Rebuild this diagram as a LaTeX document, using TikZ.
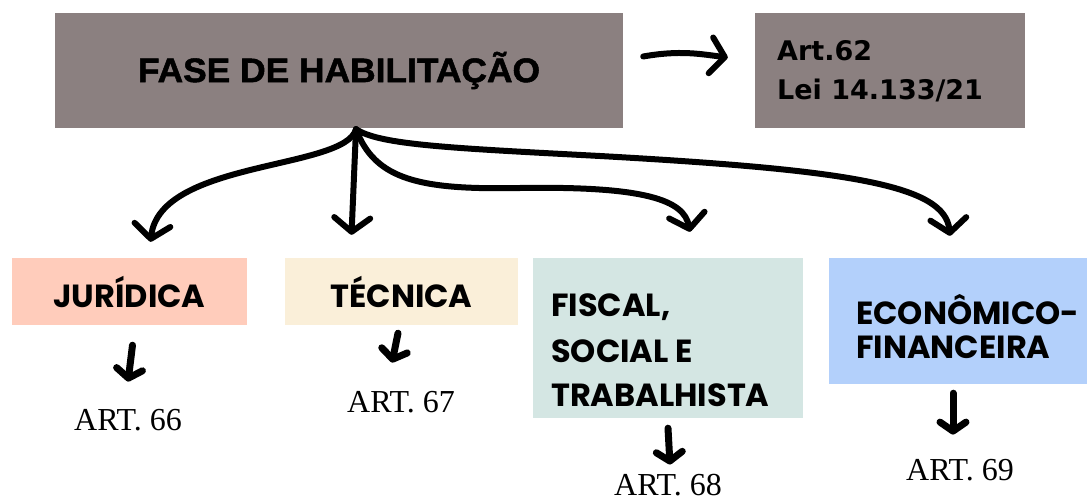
\documentclass[tikz,border=0pt]{standalone}
\usepackage{fontspec}
\usetikzlibrary{arrows.meta,calc}
\newfontfamily\titlefont{Liberation Sans}[FakeStretch=1.04, BoldFeatures={FakeBold=1.5}]
\newfontfamily\boxfont{Poppins}
\newfontfamily\artboxfont{DejaVu Sans}
\newfontfamily\artserif{Liberation Serif}
\definecolor{mainc}{RGB}{139,128,128}
\definecolor{jurc}{RGB}{255,204,187}
\definecolor{tecc}{RGB}{250,239,217}
\definecolor{fisc}{RGB}{212,230,227}
\definecolor{ecoc}{RGB}{179,208,251}
\begin{document}
\begin{tikzpicture}[x=1pt,y=-1pt,
  box/.style={rectangle, inner sep=0pt, draw=none},
  boxtxt/.style={inner sep=0pt, font=\boxfont\bfseries\fontsize{32}{36}\selectfont},
  arttxt/.style={inner sep=0pt, anchor=base, font=\artserif\fontsize{32}{36}\selectfont},
  lawtxt/.style={inner sep=0pt, anchor=base west, font=\artboxfont\bfseries\fontsize{27}{31}\selectfont},
  hand/.style={line width=6pt, line cap=round, line join=round,
    -{Straight Barb[length=14pt,width=36pt,round]}},
  stub/.style={line width=7pt, line cap=round, line join=round,
    -{Straight Barb[length=9pt,width=26pt,round]}}]
\useasboundingbox (0,0) rectangle (1087,500);
\fill[white] (0,0) rectangle (1087,500);

% boxes
\node[box, fill=mainc, minimum width=568pt, minimum height=115pt,
  font=\titlefont\bfseries\fontsize{34}{38}\selectfont] (main) at (339,70.5) {FASE DE HABILITAÇÃO};
\node[box, fill=mainc, minimum width=270pt, minimum height=115pt] (art) at (890,70.5) {};
\node[lawtxt] (art1) at (777,61) {Art.62};
\node[lawtxt] (art2) at (777,100) {Lei 14.133/21};

\node[box, fill=jurc, minimum width=235pt, minimum height=67pt, boxtxt] (jur) at (129.5,291.5) {JURÍDICA};
\node[box, fill=tecc, minimum width=233pt, minimum height=67pt, boxtxt] (tec) at (401.5,291.5) {TÉCNICA};
\node[box, fill=fisc, minimum width=270pt, minimum height=160pt] (fis) at (668,338) {};
\node[boxtxt, anchor=base west] (fis1) at (551,316) {FISCAL,};
\node[boxtxt, anchor=base west] (fis2) at (551,362) {SOCIAL E};
\node[boxtxt, anchor=base west] (fis3) at (551,406) {TRABALHISTA};
\node[box, fill=ecoc, minimum width=258pt, minimum height=126pt] (eco) at (958,321) {};
\node[boxtxt, anchor=base west] (eco1) at (856,324) {ECONÔMICO-};
\node[boxtxt, anchor=base west] (eco2) at (856,358) {FINANCEIRA};

% article labels
\node[arttxt] (a66) at (128,430) {ART. 66};
\node[arttxt] (a67) at (401,412) {ART. 67};
\node[arttxt] (a68) at (668,495) {ART. 68};
\node[arttxt] (a69) at (960,480) {ART. 69};

% connectors
\draw[hand] ([xshift=20pt,yshift=14pt]main.east) .. controls (680,50) and (700,54) .. ([xshift=-27pt,yshift=13pt]art.west);
\coordinate (hub) at ([xshift=17pt,yshift=-1pt]main.south);
\draw[hand] (hub) .. controls (345,170) and (160,160) .. ([xshift=21pt,yshift=16pt]jur.north);
\draw[hand] (hub) -- ([xshift=-50pt,yshift=23pt]tec.north);
\draw[hand] (hub) .. controls (375,180) and (420,190) .. (520,188) .. controls (645,186) and (684,200) .. ([xshift=22pt,yshift=26pt]fis.north);
\draw[hand] (hub) .. controls (380,145) and (450,148) .. (600,156) .. controls (850,170) and (945,185) .. ([xshift=-8pt,yshift=22pt]eco.north);

\draw[stub] ([xshift=3pt,yshift=-20pt]jur.south) -- ([yshift=27pt]a66.north);
\draw[stub] ([xshift=-3.5pt,yshift=-8pt]tec.south) -- ([xshift=-9pt,yshift=28pt]a67.north);
\draw[stub] ([yshift=-10pt]fis.south) -- ([xshift=2pt,yshift=9pt]a68.north);
\draw[stub] ([xshift=-5pt,yshift=-9pt]eco.south) -- ([xshift=-7pt,yshift=24pt]a69.north);
\end{tikzpicture}
\end{document}
